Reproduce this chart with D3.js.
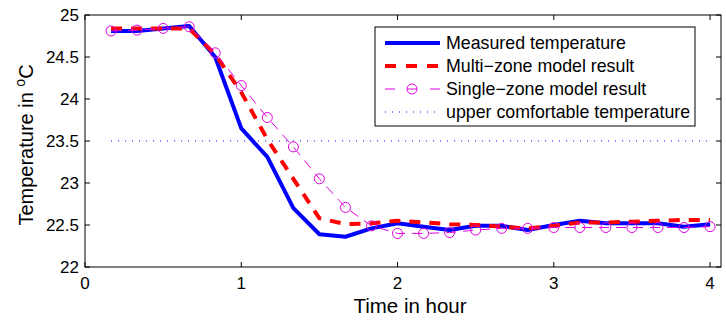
<!DOCTYPE html>
<html>
<head>
<meta charset="utf-8">
<script src="https://cdn.jsdelivr.net/npm/d3@7"></script>
<style>
  body { margin: 0; background: #fff; }
  text { font-family: "Liberation Sans", Arial, sans-serif; fill: #000; }
</style>
</head>
<body>
<svg width="726" height="320"></svg>
<script>
  // time in hours (10 minute steps)
  const hours = [0.1667, 0.3333, 0.5, 0.6667, 0.8333, 1.0, 1.1667, 1.3333, 1.5, 1.6667, 1.8333, 2.0,
                 2.1667, 2.3333, 2.5, 2.6667, 2.8333, 3.0, 3.1667, 3.3333, 3.5, 3.6667, 3.8333, 4.0];
  const measured = [24.81, 24.81, 24.84, 24.87, 24.50, 23.65, 23.31, 22.70, 22.39, 22.36, 22.46, 22.52,
                    22.48, 22.44, 22.49, 22.49, 22.44, 22.50, 22.55, 22.52, 22.52, 22.52, 22.48, 22.51];
  const multiZone = [24.84, 24.84, 24.84, 24.84, 24.53, 24.08, 23.52, 23.05, 22.58, 22.51, 22.52, 22.55,
                     22.53, 22.51, 22.50, 22.48, 22.46, 22.49, 22.53, 22.53, 22.54, 22.55, 22.56, 22.56];
  const singleZone = [24.81, 24.82, 24.84, 24.86, 24.55, 24.16, 23.78, 23.43, 23.05, 22.71, 22.49, 22.40,
                      22.40, 22.41, 22.44, 22.46, 22.46, 22.47, 22.47, 22.47, 22.47, 22.47, 22.47, 22.48];
  const comfortLimit = 23.5;
  const xTicks = [0, 1, 2, 3, 4];
  const yTicks = [22, 22.5, 23, 23.5, 24, 24.5, 25];
  const legendLabels = ["Measured temperature", "Multi\u2212zone model result",
                        "Single\u2212zone model result", "upper comfortable temperature"];

  const svg = d3.select("svg");
  const pLeft = 85, pRight = 721, pTop = 15, pBottom = 267;

  const x = d3.scaleLinear().domain([0, 4.07]).range([pLeft, pRight]);
  const y = d3.scaleLinear().domain([22, 25]).range([pBottom, pTop]);

  const blue = "#0000ff", red = "#ff0000", magenta = "#e000e0";

  // axes box
  svg.append("rect")
    .attr("x", pLeft).attr("y", pTop)
    .attr("width", pRight - pLeft).attr("height", pBottom - pTop)
    .attr("fill", "none").attr("stroke", "#000").attr("stroke-width", 1);

  const tickLen = 5;
  const ax = svg.append("g").attr("stroke", "#000").attr("stroke-width", 1);
  xTicks.forEach(t => {
    ax.append("line").attr("x1", x(t)).attr("x2", x(t)).attr("y1", pBottom).attr("y2", pBottom - tickLen);
    ax.append("line").attr("x1", x(t)).attr("x2", x(t)).attr("y1", pTop).attr("y2", pTop + tickLen);
  });
  yTicks.forEach(t => {
    ax.append("line").attr("x1", pLeft).attr("x2", pLeft + tickLen).attr("y1", y(t)).attr("y2", y(t));
    ax.append("line").attr("x1", pRight).attr("x2", pRight - tickLen).attr("y1", y(t)).attr("y2", y(t));
  });

  svg.selectAll(".xt").data(xTicks).enter().append("text")
    .attr("x", d => x(d)).attr("y", pBottom + 22)
    .attr("text-anchor", "middle").attr("font-size", 17)
    .text(d => d);
  svg.selectAll(".yt").data(yTicks).enter().append("text")
    .attr("x", pLeft - 6).attr("y", d => y(d) + 6)
    .attr("text-anchor", "end").attr("font-size", 17)
    .text(d => d3.format("")(d));

  svg.append("text")
    .attr("x", 410).attr("y", 313)
    .attr("text-anchor", "middle").attr("font-size", 20.5)
    .text("Time in hour");

  const yl = svg.append("text")
    .attr("transform", `translate(33, 145) rotate(-90)`)
    .attr("text-anchor", "middle").attr("font-size", 20);
  yl.append("tspan").text("Temperature in ");
  yl.append("tspan").attr("font-size", 14).attr("dy", -8).text("o");
  yl.append("tspan").attr("dy", 8).text("C");

  const line = d3.line().x((d, i) => x(hours[i])).y(d => y(d));

  svg.append("path").datum(measured)
    .attr("d", line).attr("fill", "none")
    .attr("stroke", blue).attr("stroke-width", 4).attr("stroke-linejoin", "round");

  svg.append("path").datum(multiZone)
    .attr("d", line).attr("fill", "none")
    .attr("stroke", red).attr("stroke-width", 4).attr("stroke-dasharray", "11,9");

  svg.append("path").datum(singleZone)
    .attr("d", line).attr("fill", "none")
    .attr("stroke", magenta).attr("stroke-width", 1).attr("stroke-dasharray", "10,7");

  svg.selectAll(".mk").data(singleZone).enter().append("circle")
    .attr("cx", (d, i) => x(hours[i])).attr("cy", d => y(d)).attr("r", 5)
    .attr("fill", "none").attr("stroke", magenta).attr("stroke-width", 1);

  svg.append("line")
    .attr("x1", x(hours[0])).attr("x2", x(hours[hours.length - 1]))
    .attr("y1", y(comfortLimit)).attr("y2", y(comfortLimit))
    .attr("stroke", blue).attr("stroke-width", 1).attr("stroke-dasharray", "1,6");

  // legend
  const lg = svg.append("g");
  lg.append("rect").attr("x", 375).attr("y", 27).attr("width", 320).attr("height", 99)
    .attr("fill", "#fff").attr("stroke", "#000").attr("stroke-width", 1);
  const rowY = [43, 66, 89, 112];
  const styles = [
    { stroke: blue, w: 4, dash: null },
    { stroke: red, w: 4, dash: "11,10" },
    { stroke: magenta, w: 1, dash: "10,35" },
    { stroke: blue, w: 1, dash: "1,6" }
  ];
  legendLabels.forEach((lab, i) => {
    const s = styles[i];
    lg.append("line").attr("x1", 385).attr("x2", 440).attr("y1", rowY[i]).attr("y2", rowY[i])
      .attr("stroke", s.stroke).attr("stroke-width", s.w).attr("stroke-dasharray", s.dash);
    if (i === 2) {
      lg.append("line").attr("x1", 407).attr("x2", 417).attr("y1", rowY[i]).attr("y2", rowY[i])
        .attr("stroke", magenta).attr("stroke-width", 1);
      lg.append("circle").attr("cx", 412).attr("cy", rowY[i]).attr("r", 5)
        .attr("fill", "none").attr("stroke", magenta);
    }
    lg.append("text").attr("x", 446).attr("y", rowY[i] + 6).attr("font-size", 17.8).text(lab);
  });
</script>
</body>
</html>
